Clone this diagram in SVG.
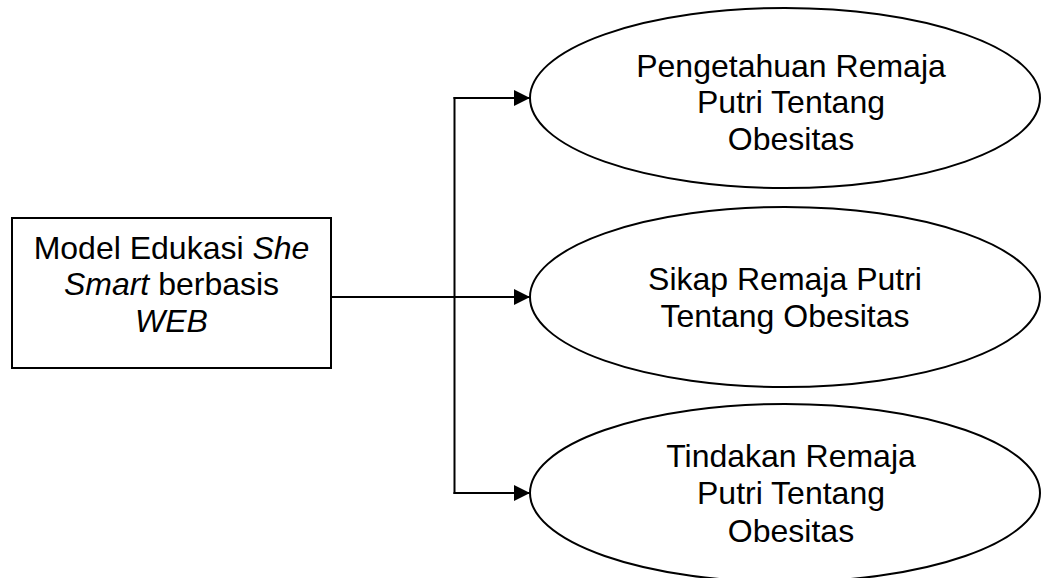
<svg xmlns="http://www.w3.org/2000/svg" width="1041" height="578" viewBox="0 0 1041 578">
<defs>
<style>
.shape{fill:#fff;stroke:#000;stroke-width:2}
.conn{fill:none;stroke:#000;stroke-width:2}
.lbl{font-family:"Liberation Sans",Arial,sans-serif;font-size:32px;fill:#000;text-anchor:middle}
</style>
<marker id="arr" markerWidth="16" markerHeight="16" refX="16" refY="8" orient="auto" markerUnits="userSpaceOnUse">
<path d="M0,0 L16,8 L0,16 Z" fill="#000"/>
</marker>
</defs>
<rect width="1041" height="578" fill="#fff"/>
<g id="connectors">
<line class="conn" x1="331" y1="297" x2="530" y2="297" marker-end="url(#arr)"/>
<line class="conn" x1="454.5" y1="97" x2="454.5" y2="494"/>
<line class="conn" x1="453.5" y1="98" x2="530" y2="98" marker-end="url(#arr)"/>
<line class="conn" x1="453.5" y1="493" x2="530" y2="493" marker-end="url(#arr)"/>
</g>
<g id="model">
<rect class="shape" x="12" y="218" width="319" height="150"/>
<text class="lbl"><tspan x="171.5" y="259">Model Edukasi <tspan font-style="italic">She</tspan></tspan><tspan x="171.5" y="295"><tspan font-style="italic">Smart</tspan> berbasis</tspan><tspan x="171.5" y="332" font-style="italic">WEB</tspan></text>
</g>
<g id="pengetahuan">
<ellipse class="shape" cx="785" cy="98" rx="255" ry="90"/>
<text class="lbl"><tspan x="791" y="77">Pengetahuan Remaja</tspan><tspan x="791" y="113">Putri Tentang</tspan><tspan x="791" y="150">Obesitas</tspan></text>
</g>
<g id="sikap">
<ellipse class="shape" cx="785" cy="297" rx="255" ry="90"/>
<text class="lbl"><tspan x="785" y="290">Sikap Remaja Putri</tspan><tspan x="785" y="327">Tentang Obesitas</tspan></text>
</g>
<g id="tindakan">
<ellipse class="shape" cx="785" cy="493" rx="255" ry="89"/>
<text class="lbl"><tspan x="791" y="467">Tindakan Remaja</tspan><tspan x="791" y="504">Putri Tentang</tspan><tspan x="791" y="542">Obesitas</tspan></text>
</g>
</svg>
